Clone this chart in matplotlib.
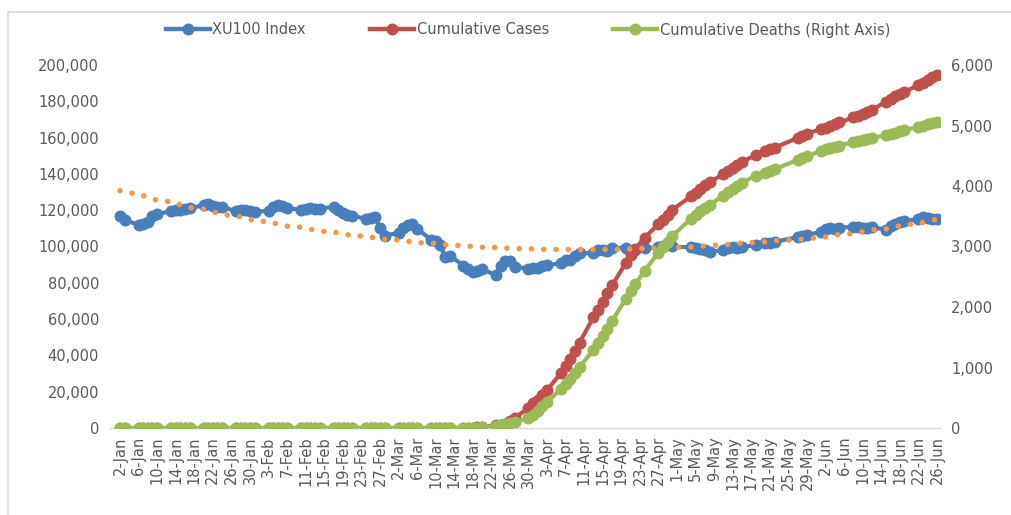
import matplotlib
matplotlib.use("Agg")
import matplotlib.pyplot as plt
import matplotlib.dates as mdates
from matplotlib.lines import Line2D
from matplotlib.patches import Rectangle
from matplotlib.ticker import FuncFormatter, MultipleLocator
import numpy as np
import pandas as pd

# ---------------- data ----------------
start_date = "2020-01-02"
end_date = "2020-06-26"
market_holidays = ["2020-04-23", "2020-05-01", "2020-05-19", "2020-05-25", "2020-05-26"]

# XU100 index closes (trading days)
xu100 = [
    # Jan
    116700, 114500, 112000, 112300, 113600, 116600, 117800, 119500, 120300, 120000, 120600,
    121000, 122800, 123300, 122400, 121600, 121900, 119400, 119900, 120300, 119300, 118900,
    # Feb
    119800, 122000, 122800, 122500, 121400, 120000, 120600, 121000, 120800, 120900,
    121800, 120200, 118600, 117300, 117000, 115200, 115900, 116000, 110000, 106000,
    # Mar
    107500, 110300, 111600, 112200, 109800, 103800, 103200, 100800, 94200, 95000, 89500,
    87500, 86000, 86400, 87400, 84300, 89500, 92000, 91800, 88800, 87800, 88400,
    # Apr
    88000, 89300, 89600, 90900, 92600, 92400, 94900, 96200, 96500, 97900, 98200,
    97400, 99000, 99400, 97300, 98200, 99000, 99500, 100500, 101200, 100000,
    # May
    99500, 99000, 98600, 97800, 97200, 97900, 99000, 99600, 99300, 99700, 100800,
    101800, 102100, 102500, 105200, 106000, 106400,
    # Jun
    108000, 109400, 110200, 109600, 110300, 110900, 110600, 110200, 110400, 110800,
    109200, 111300, 112600, 113500, 113900, 115200, 116000, 115800, 115100, 115300,
]

cumulative_cases = [
    # Jan
    0, 0, 0, 0, 0, 0, 0, 0, 0, 0, 0, 0, 0, 0, 0, 0, 0, 0, 0, 0, 0, 0,
    # Feb
    0, 0, 0, 0, 0, 0, 0, 0, 0, 0, 0, 0, 0, 0, 0, 0, 0, 0, 0, 0,
    # Mar
    0, 0, 0, 0, 0, 0, 0, 1, 1, 5, 47, 98, 191, 359, 670, 1529, 1872, 2433, 3629, 5698,
    10827, 13531,
    # Apr
    15679, 18135, 20921, 30217, 34109, 38226, 42282, 47029, 61049, 65111, 69392, 74193,
    78546, 90980, 95591, 98674, 104912, 112261, 114653, 117589, 120204,
    # May
    127659, 129491, 131744, 133721, 135569, 139771, 141475, 143114, 144749, 146457,
    150593, 152587, 153548, 154500, 159797, 160979, 162120,
    # Jun
    164769, 165555, 166422, 167410, 168340, 171121, 172114, 173036, 174023, 175218,
    179831, 181298, 182727, 184031, 185245, 188897, 190165, 191657, 193115, 194511,
]

cumulative_deaths = [
    # Jan
    0, 0, 0, 0, 0, 0, 0, 0, 0, 0, 0, 0, 0, 0, 0, 0, 0, 0, 0, 0, 0, 0,
    # Feb
    0, 0, 0, 0, 0, 0, 0, 0, 0, 0, 0, 0, 0, 0, 0, 0, 0, 0, 0, 0,
    # Mar
    0, 0, 0, 0, 0, 0, 0, 0, 0, 0, 0, 1, 2, 3, 9, 37, 44, 59, 75, 92, 168, 214,
    # Apr
    277, 356, 425, 649, 725, 812, 908, 1006, 1296, 1403, 1518, 1643, 1769, 2140, 2259,
    2376, 2600, 2900, 2992, 3081, 3174,
    # May
    3461, 3520, 3584, 3641, 3689, 3841, 3894, 3952, 4007, 4055, 4171, 4222, 4249, 4276,
    4431, 4461, 4489,
    # Jun
    4585, 4609, 4630, 4648, 4669, 4729, 4746, 4763, 4778, 4792, 4842, 4861, 4882, 4905,
    4927, 4974, 4995, 5025, 5046, 5065,
]

series_labels = ["XU100 Index", "Cumulative Cases", "Cumulative Deaths (Right Axis)"]

# ---------------- styling ----------------
BLUE = "#4A7EBB"
RED = "#C0504D"
GREEN = "#9BBB59"
ORANGE = "#F79646"
TXT = "#595959"
FS = 10.5

plt.rcParams["font.family"] = ["DejaVu Sans"]

dates = pd.bdate_range(start_date, end_date)
dates = dates[~dates.isin(pd.to_datetime(market_holidays))]

# Excel-like polynomial (order 2) trendline on the XU100 series
idx = np.arange(1, len(xu100) + 1)
coef = np.polyfit(idx, np.array(xu100, dtype=float), 2)
trend = np.polyval(coef, idx)

W, H = 1012, 515
fig = plt.figure(figsize=(W / 100, H / 100), dpi=100)
ax = fig.add_axes([110 / W, 1 - 428 / H, (940 - 110) / W, (428 - 65) / H])
ax2 = ax.twinx()

lw = 3.0
ms = 7.6
ax.plot(dates, xu100, color=BLUE, lw=lw, marker="o", ms=ms, mec=BLUE, mfc=BLUE, zorder=2)
ax.plot(dates, cumulative_cases, color=RED, lw=lw, marker="o", ms=ms, mec=RED, mfc=RED, zorder=3)
ax.plot(dates, trend, color=ORANGE, lw=4.0, linestyle=(0, (0.01, 2.2)),
        dash_capstyle="round", zorder=4)
ax2.plot(dates, cumulative_deaths, color=GREEN, lw=lw, marker="o", ms=ms, mec=GREEN, mfc=GREEN)

d0 = mdates.date2num(pd.Timestamp(start_date))
d1 = mdates.date2num(pd.Timestamp(end_date))
ax.set_xlim(d0 - 2.15, d1 + 0.65)
ax.set_ylim(0, 200000)
ax2.set_ylim(0, 6000)

ax.yaxis.set_major_locator(MultipleLocator(20000))
ax2.yaxis.set_major_locator(MultipleLocator(1000))
fmt = FuncFormatter(lambda v, p: f"{int(round(v)):,}")
ax.yaxis.set_major_formatter(fmt)
ax2.yaxis.set_major_formatter(fmt)

tick_dates = pd.date_range(start_date, end_date, freq="4D")
ax.set_xticks(tick_dates)
ax.set_xticklabels([f"{d.day}-{d.strftime('%b')}" for d in tick_dates], rotation=90)

for a in (ax, ax2):
    for s in a.spines.values():
        s.set_visible(False)
    a.tick_params(length=0, labelsize=FS, labelcolor=TXT)
ax.spines["bottom"].set_visible(True)
ax.spines["bottom"].set_color("#D9D9D9")
ax.spines["bottom"].set_linewidth(1.0)
ax.tick_params(axis="x", pad=6)
ax.tick_params(axis="y", pad=8)
ax2.tick_params(axis="y", pad=8)

handles = [
    Line2D([], [], color=BLUE, lw=3.2, marker="o", ms=ms),
    Line2D([], [], color=RED, lw=3.2, marker="o", ms=ms),
    Line2D([], [], color=GREEN, lw=3.2, marker="o", ms=ms),
]
leg = fig.legend(handles, series_labels, loc="center", bbox_to_anchor=(528 / W, 1 - 30 / H),
                 ncol=3, frameon=False, fontsize=FS, handlelength=3.0, handletextpad=0.2,
                 columnspacing=4.4, numpoints=1)
for t in leg.get_texts():
    t.set_color(TXT)

fig.add_artist(Rectangle((8 / W, -0.2), 1.5, 1.2 - 12 / H, transform=fig.transFigure,
                         fill=False, edgecolor="#D9D9D9", lw=1.2))

fig.savefig("out.png", dpi=100, facecolor="white")
